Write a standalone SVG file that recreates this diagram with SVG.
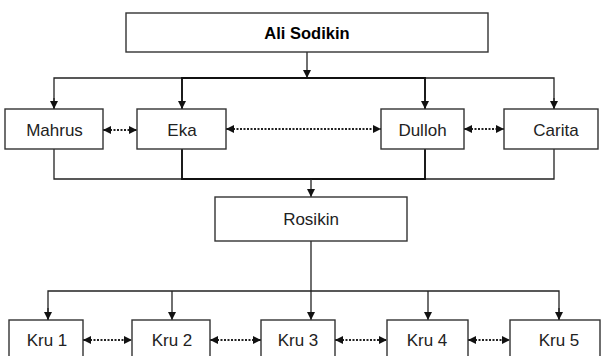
<svg xmlns="http://www.w3.org/2000/svg" width="603" height="356" viewBox="0 0 603 356">
<style>
.box{fill:#fff;stroke:#333;stroke-width:1.4}
.t{font-family:"Liberation Sans",Arial,sans-serif;font-size:17px;fill:#222;text-anchor:middle}
.b{font-weight:bold;fill:#000;font-size:16.5px}
.ln{fill:none;stroke:#222;stroke-width:1.3}
.th{fill:none;stroke:#111;stroke-width:1.9}
.dot{fill:none;stroke:#222;stroke-width:2;stroke-dasharray:2 1.5}
</style>
<defs>
<marker id="ah" viewBox="0 0 10 10" refX="10" refY="5" markerWidth="8" markerHeight="8" markerUnits="userSpaceOnUse" orient="auto">
<path d="M0,0 L10,5 L0,10 Z" fill="#111"/>
</marker>
<marker id="as" viewBox="0 0 10 10" refX="0" refY="5" markerWidth="8" markerHeight="8" markerUnits="userSpaceOnUse" orient="auto">
<path d="M10,0 L0,5 L10,10 Z" fill="#111"/>
</marker>
</defs>
<g id="connectors">
<path class="ln" d="M307,52 V78" marker-end="url(#ah)"/>
<path class="ln" d="M54,109 V78 H182"/>
<path class="ln" d="M425,78 H554 V109"/>
<path class="th" d="M182,109 V78 H425 V109"/>
<path class="ln" d="M54,98 V109" marker-end="url(#ah)"/>
<path class="ln" d="M182,98 V109" marker-end="url(#ah)"/>
<path class="ln" d="M425,98 V109" marker-end="url(#ah)"/>
<path class="ln" d="M554,98 V109" marker-end="url(#ah)"/>
<path class="ln" d="M54,149 V179 H182"/>
<path class="ln" d="M425,179 H554 V149"/>
<path class="th" d="M182,149 V179 H425 V149"/>
<path class="ln" d="M311,179 V197" marker-end="url(#ah)"/>
<path class="ln" d="M311,241 V320" marker-end="url(#ah)"/>
<path class="ln" d="M48,320 V291 H559 V320"/>
<path class="ln" d="M48,308 V320" marker-end="url(#ah)"/>
<path class="ln" d="M559,308 V320" marker-end="url(#ah)"/>
<path class="ln" d="M172,291 V320" marker-end="url(#ah)"/>
<path class="ln" d="M428,291 V320" marker-end="url(#ah)"/>
<path class="dot" d="M103,130 H137" marker-start="url(#as)" marker-end="url(#ah)"/>
<path class="dot" d="M226,129 H381" marker-start="url(#as)" marker-end="url(#ah)"/>
<path class="dot" d="M464,129 H504" marker-start="url(#as)" marker-end="url(#ah)"/>
<path class="dot" d="M83,340 H132" marker-start="url(#as)" marker-end="url(#ah)"/>
<path class="dot" d="M210,340 H261" marker-start="url(#as)" marker-end="url(#ah)"/>
<path class="dot" d="M335,340 H387" marker-start="url(#as)" marker-end="url(#ah)"/>
<path class="dot" d="M468,340 H510" marker-start="url(#as)" marker-end="url(#ah)"/>
</g>
<g id="ali"><rect class="box" x="126" y="13" width="362" height="39"/><text class="t b" x="307" y="39">Ali Sodikin</text></g>
<g id="mahrus"><rect class="box" x="5" y="109" width="98" height="40"/><text class="t" x="54.5" y="136">Mahrus</text></g>
<g id="eka"><rect class="box" x="137" y="109" width="89" height="40"/><text class="t" x="182" y="136">Eka</text></g>
<g id="dulloh"><rect class="box" x="381" y="109" width="83" height="40"/><text class="t" x="422.5" y="136">Dulloh</text></g>
<g id="carita"><rect class="box" x="504" y="109" width="94" height="40"/><text class="t" x="556" y="136">Carita</text></g>
<g id="rosikin"><rect class="box" x="215" y="197" width="192" height="44"/><text class="t" x="311" y="225">Rosikin</text></g>
<g id="kru1"><rect class="box" x="9" y="320" width="74" height="44"/><text class="t" x="47" y="346">Kru 1</text></g>
<g id="kru2"><rect class="box" x="132" y="320" width="78" height="44"/><text class="t" x="172" y="346">Kru 2</text></g>
<g id="kru3"><rect class="box" x="261" y="320" width="74" height="44"/><text class="t" x="298" y="346">Kru 3</text></g>
<g id="kru4"><rect class="box" x="387" y="320" width="81" height="44"/><text class="t" x="427" y="346">Kru 4</text></g>
<g id="kru5"><rect class="box" x="510" y="320" width="90" height="44"/><text class="t" x="559" y="346">Kru 5</text></g>
</svg>
